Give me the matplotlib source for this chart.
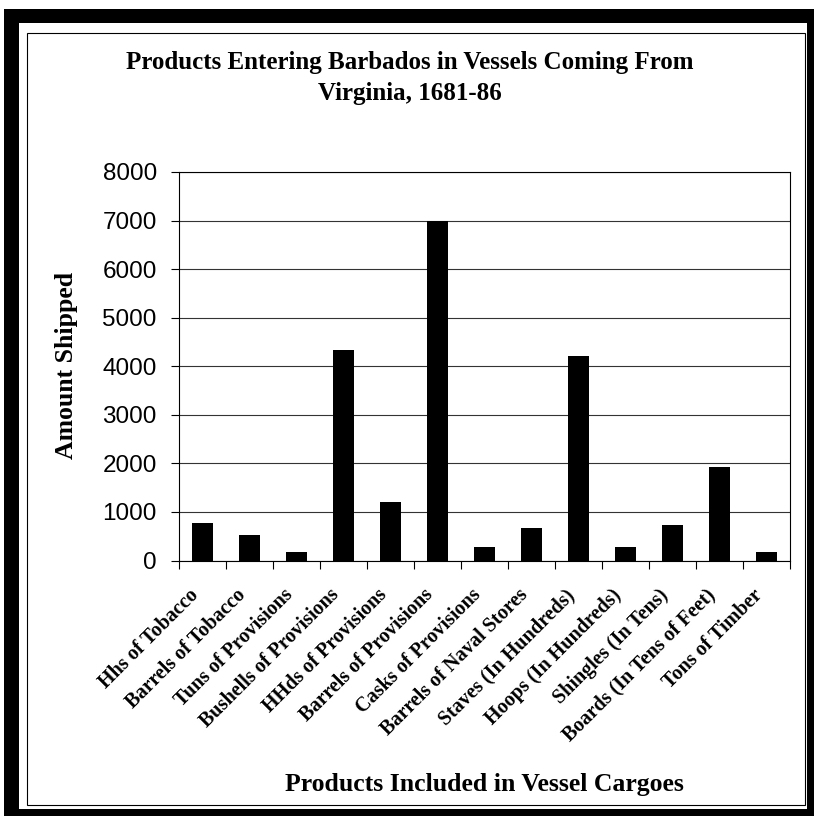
import matplotlib
matplotlib.use("Agg")
import matplotlib.pyplot as plt
from matplotlib.patches import Rectangle
from matplotlib.transforms import ScaledTranslation
import numpy as np

categories = ['Hhs of Tobacco', 'Barrels of Tobacco', 'Tuns of Provisions',
              'Bushells of Provisions', 'HHds of Provisions', 'Barrels of Provisions',
              'Casks of Provisions', 'Barrels of Naval Stores', 'Staves (In Hundreds)',
              'Hoops (In Hundreds)', 'Shingles (In Tens)', 'Boards (In Tens of Feet)',
              'Tons of Timber']
amounts = [765, 525, 180, 4340, 1210, 7000, 285, 670, 4215, 270, 725, 1925, 170]
yticks = [0, 1000, 2000, 3000, 4000, 5000, 6000, 7000, 8000]

W, H = 814, 816
fig = plt.figure(figsize=(W / 100, H / 100), dpi=100)

def box(x0, y0, x1, y1, **kw):
    # pixel coords, origin top-left
    fig.add_artist(Rectangle((x0 / W, 1 - y1 / H), (x1 - x0) / W, (y1 - y0) / H,
                             transform=fig.transFigure, **kw))

# thick black outer frame + thin inner frame
box(0, 0, W, H, facecolor='white', edgecolor='none', zorder=0)
box(4, 9, 19, H, facecolor='black', edgecolor='none')
box(4, 9, W, 23, facecolor='black', edgecolor='none')
box(807, 9, W, H, facecolor='black', edgecolor='none')
box(4, 809, W, H, facecolor='black', edgecolor='none')
box(27, 33, 805, 805, facecolor='none', edgecolor='black', linewidth=0.8)

ax = fig.add_axes([179 / W, 1 - 560.5 / H, (790 - 179) / W, (560.5 - 172) / H])
x = np.arange(len(categories))
ax.bar(x, amounts, width=0.44, color='black', zorder=3)
ax.set_xlim(-0.5, len(categories) - 0.5)
ax.set_ylim(0, 8000)
ax.set_yticks(yticks)
ax.set_yticklabels([str(v) for v in yticks], family='Liberation Sans', fontsize=17.5)
ax.yaxis.grid(True, color='#333333', linewidth=0.8, zorder=0)
ax.tick_params(axis='y', direction='out', length=6, width=0.8, pad=10)

# category ticks between bars, labels centred under bars
ax.set_xticks(np.arange(-0.5, len(categories)), minor=False)
ax.set_xticklabels([])
ax.set_xticks(x, minor=True)
ax.set_xticklabels(categories, minor=True, rotation=45, ha='right', va='top',
                   rotation_mode='anchor', family='Liberation Serif',
                   fontweight='bold', fontsize=14.5)
ax.tick_params(axis='x', which='major', direction='out', length=6, width=0.8)
ax.tick_params(axis='x', which='minor', length=0, pad=12)
shift = ScaledTranslation(-0.14, -0.08, fig.dpi_scale_trans)
for lbl in ax.get_xticklabels(minor=True):
    lbl.set_transform(lbl.get_transform() + shift)
for s in ax.spines.values():
    s.set_linewidth(0.8)

fig.text(410 / W, 1 - 78 / H, 'Products Entering Barbados in Vessels Coming From\nVirginia, 1681-86',
         ha='center', va='center', family='Liberation Serif', fontweight='bold',
         fontsize=18, linespacing=1.48)
fig.text(66 / W, 1 - 365 / H, 'Amount Shipped', rotation=90, ha='center', va='center',
         family='Liberation Serif', fontweight='bold', fontsize=18.5)
fig.text(484 / W, 1 - 785 / H, 'Products Included in Vessel Cargoes', ha='center',
         va='center', family='Liberation Serif', fontweight='bold', fontsize=18.5)

fig.savefig('out.png', dpi=100)
